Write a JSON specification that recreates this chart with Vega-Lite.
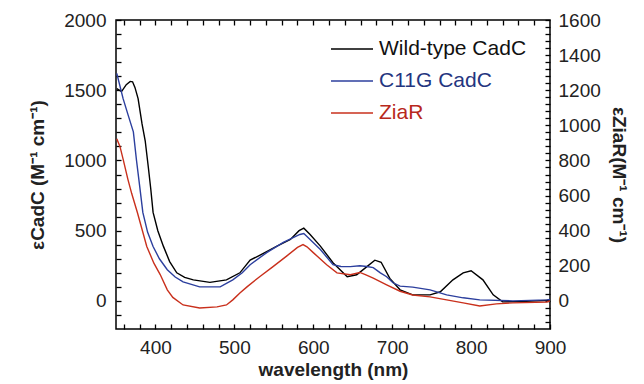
{
  "$schema": "https://vega.github.io/schema/vega-lite/v6.json",
  "width": 434,
  "height": 309,
  "autosize": {"type": "none"},
  "padding": {"left": 116, "top": 20, "right": 94, "bottom": 55},
  "config": {
    "view": {"stroke": "#000", "strokeWidth": 1.5},
    "line": {"strokeWidth": 1.4}
  },
  "layer": [
    {
      "data": {"values": [
        {"s": "Wild-type CadC", "nm": 351, "v": 1512},
        {"s": "Wild-type CadC", "nm": 357, "v": 1490},
        {"s": "Wild-type CadC", "nm": 363, "v": 1540},
        {"s": "Wild-type CadC", "nm": 368, "v": 1563},
        {"s": "Wild-type CadC", "nm": 371, "v": 1560},
        {"s": "Wild-type CadC", "nm": 374, "v": 1520},
        {"s": "Wild-type CadC", "nm": 378, "v": 1440},
        {"s": "Wild-type CadC", "nm": 383, "v": 1260},
        {"s": "Wild-type CadC", "nm": 387, "v": 1140},
        {"s": "Wild-type CadC", "nm": 391, "v": 950},
        {"s": "Wild-type CadC", "nm": 394, "v": 800},
        {"s": "Wild-type CadC", "nm": 397, "v": 630},
        {"s": "Wild-type CadC", "nm": 403, "v": 500},
        {"s": "Wild-type CadC", "nm": 410, "v": 390},
        {"s": "Wild-type CadC", "nm": 418, "v": 280},
        {"s": "Wild-type CadC", "nm": 427, "v": 200},
        {"s": "Wild-type CadC", "nm": 437, "v": 168},
        {"s": "Wild-type CadC", "nm": 448, "v": 150},
        {"s": "Wild-type CadC", "nm": 469, "v": 132},
        {"s": "Wild-type CadC", "nm": 490, "v": 150},
        {"s": "Wild-type CadC", "nm": 507, "v": 200},
        {"s": "Wild-type CadC", "nm": 520, "v": 290},
        {"s": "Wild-type CadC", "nm": 532, "v": 325},
        {"s": "Wild-type CadC", "nm": 554, "v": 390},
        {"s": "Wild-type CadC", "nm": 571, "v": 437},
        {"s": "Wild-type CadC", "nm": 582, "v": 500},
        {"s": "Wild-type CadC", "nm": 588, "v": 518},
        {"s": "Wild-type CadC", "nm": 596, "v": 473},
        {"s": "Wild-type CadC", "nm": 609, "v": 390},
        {"s": "Wild-type CadC", "nm": 625, "v": 272},
        {"s": "Wild-type CadC", "nm": 643, "v": 172},
        {"s": "Wild-type CadC", "nm": 655, "v": 186},
        {"s": "Wild-type CadC", "nm": 668, "v": 244},
        {"s": "Wild-type CadC", "nm": 678, "v": 290},
        {"s": "Wild-type CadC", "nm": 686, "v": 275},
        {"s": "Wild-type CadC", "nm": 697, "v": 160},
        {"s": "Wild-type CadC", "nm": 710, "v": 79},
        {"s": "Wild-type CadC", "nm": 726, "v": 43},
        {"s": "Wild-type CadC", "nm": 748, "v": 43},
        {"s": "Wild-type CadC", "nm": 761, "v": 65},
        {"s": "Wild-type CadC", "nm": 777, "v": 150},
        {"s": "Wild-type CadC", "nm": 790, "v": 200},
        {"s": "Wild-type CadC", "nm": 800, "v": 215},
        {"s": "Wild-type CadC", "nm": 815, "v": 150},
        {"s": "Wild-type CadC", "nm": 828, "v": 43},
        {"s": "Wild-type CadC", "nm": 840, "v": -7},
        {"s": "Wild-type CadC", "nm": 870, "v": -3},
        {"s": "Wild-type CadC", "nm": 900, "v": 5},
        {"s": "C11G CadC", "nm": 351, "v": 1620},
        {"s": "C11G CadC", "nm": 355, "v": 1530},
        {"s": "C11G CadC", "nm": 359, "v": 1440},
        {"s": "C11G CadC", "nm": 365, "v": 1330},
        {"s": "C11G CadC", "nm": 372, "v": 1204},
        {"s": "C11G CadC", "nm": 376, "v": 1000},
        {"s": "C11G CadC", "nm": 380, "v": 817},
        {"s": "C11G CadC", "nm": 384, "v": 630},
        {"s": "C11G CadC", "nm": 390, "v": 490},
        {"s": "C11G CadC", "nm": 397, "v": 387},
        {"s": "C11G CadC", "nm": 405, "v": 300},
        {"s": "C11G CadC", "nm": 415, "v": 222},
        {"s": "C11G CadC", "nm": 425, "v": 170},
        {"s": "C11G CadC", "nm": 435, "v": 136},
        {"s": "C11G CadC", "nm": 456, "v": 100},
        {"s": "C11G CadC", "nm": 482, "v": 100},
        {"s": "C11G CadC", "nm": 498, "v": 150},
        {"s": "C11G CadC", "nm": 510, "v": 200},
        {"s": "C11G CadC", "nm": 520, "v": 258},
        {"s": "C11G CadC", "nm": 541, "v": 344},
        {"s": "C11G CadC", "nm": 562, "v": 416},
        {"s": "C11G CadC", "nm": 583, "v": 473},
        {"s": "C11G CadC", "nm": 588, "v": 480},
        {"s": "C11G CadC", "nm": 592, "v": 459},
        {"s": "C11G CadC", "nm": 609, "v": 366},
        {"s": "C11G CadC", "nm": 625, "v": 258},
        {"s": "C11G CadC", "nm": 635, "v": 245},
        {"s": "C11G CadC", "nm": 647, "v": 244},
        {"s": "C11G CadC", "nm": 659, "v": 250},
        {"s": "C11G CadC", "nm": 668, "v": 245},
        {"s": "C11G CadC", "nm": 676, "v": 237},
        {"s": "C11G CadC", "nm": 685, "v": 200},
        {"s": "C11G CadC", "nm": 693, "v": 172},
        {"s": "C11G CadC", "nm": 701, "v": 129},
        {"s": "C11G CadC", "nm": 710, "v": 105},
        {"s": "C11G CadC", "nm": 726, "v": 98},
        {"s": "C11G CadC", "nm": 748, "v": 79},
        {"s": "C11G CadC", "nm": 769, "v": 43},
        {"s": "C11G CadC", "nm": 790, "v": 22},
        {"s": "C11G CadC", "nm": 811, "v": 7},
        {"s": "C11G CadC", "nm": 853, "v": 0},
        {"s": "C11G CadC", "nm": 896, "v": 7},
        {"s": "C11G CadC", "nm": 900, "v": 10}
      ]},
      "mark": {"type": "line", "clip": true},
      "encoding": {
        "x": {
          "field": "nm", "type": "quantitative",
          "scale": {"domain": [350, 900], "nice": false},
          "axis": {"orient": "bottom", "values": [360, 380, 400, 420, 440, 460, 480, 500, 520, 540, 560, 580, 600, 620, 640, 660, 680, 700, 720, 740, 760, 780, 800, 820, 840, 860, 880, 900], "labelExpr": "datum.value % 100 == 0 ? datum.label : ''", "labelOverlap": false, "format": "d", "grid": false, "domain": false, "labelFlush": false, "tickSize": -5, "tickColor": "black", "tickWidth": 1.3, "labelPadding": 14, "labelFont": "Liberation Sans", "labelFontSize": 19, "labelColor": "#222", "title": "wavelength (nm)", "titlePadding": 3, "titleFont": "Liberation Sans", "titleFontSize": 19, "titleFontWeight": "bold", "titleColor": "#222"}
        },
        "y": {
          "field": "v", "type": "quantitative",
          "scale": {"domain": [-200, 2000], "nice": false},
          "axis": {"orient": "left", "values": [-100, 0, 100, 200, 300, 400, 500, 600, 700, 800, 900, 1000, 1100, 1200, 1300, 1400, 1500, 1600, 1700, 1800, 1900, 2000], "labelExpr": "datum.value % 500 == 0 ? datum.label : ''", "labelOverlap": false, "format": "d", "grid": false, "domain": false, "labelFlush": false, "tickSize": -5, "tickColor": "black", "tickWidth": 1.3, "labelPadding": 15, "labelFont": "Liberation Sans", "labelFontSize": 19, "labelColor": "#222", "title": "εCadC (M⁻¹ cm⁻¹)", "titlePadding": 16, "titleFont": "Liberation Sans", "titleFontSize": 19, "titleFontWeight": "bold", "titleColor": "#222"}
        },
        "color": {
          "field": "s", "type": "nominal",
          "scale": {"domain": ["Wild-type CadC", "C11G CadC", "ZiaR"], "range": ["#000000", "#2c3f9e", "#c9301c"]},
          "legend": {
            "title": null,
            "orient": "none",
            "legendX": 214,
            "legendY": 7,
            "padding": 0,
            "symbolType": "stroke",
            "symbolSize": 1764,
            "symbolStrokeWidth": 1.5,
            "labelFont": "Liberation Sans",
            "labelFontSize": 21,
            "labelOffset": 5,
            "rowPadding": -12,
            "labelColor": {"expr": "datum.value == 'ZiaR' ? '#b8281c' : datum.value == 'C11G CadC' ? '#24357f' : '#111111'"}
          }
        }
      }
    },
    {
      "data": {"values": [
        {"s": "ZiaR", "nm": 351, "v": 923},
        {"s": "ZiaR", "nm": 355, "v": 880},
        {"s": "ZiaR", "nm": 359, "v": 808},
        {"s": "ZiaR", "nm": 365, "v": 694},
        {"s": "ZiaR", "nm": 370, "v": 610},
        {"s": "ZiaR", "nm": 377, "v": 505},
        {"s": "ZiaR", "nm": 389, "v": 310},
        {"s": "ZiaR", "nm": 398, "v": 215},
        {"s": "ZiaR", "nm": 406, "v": 150},
        {"s": "ZiaR", "nm": 415, "v": 63},
        {"s": "ZiaR", "nm": 422, "v": 20},
        {"s": "ZiaR", "nm": 435, "v": -23},
        {"s": "ZiaR", "nm": 456, "v": -40},
        {"s": "ZiaR", "nm": 478, "v": -34},
        {"s": "ZiaR", "nm": 490, "v": -23},
        {"s": "ZiaR", "nm": 498, "v": 6},
        {"s": "ZiaR", "nm": 507, "v": 45},
        {"s": "ZiaR", "nm": 516, "v": 80},
        {"s": "ZiaR", "nm": 532, "v": 138},
        {"s": "ZiaR", "nm": 549, "v": 195},
        {"s": "ZiaR", "nm": 567, "v": 258},
        {"s": "ZiaR", "nm": 580, "v": 305},
        {"s": "ZiaR", "nm": 587, "v": 321},
        {"s": "ZiaR", "nm": 592, "v": 308},
        {"s": "ZiaR", "nm": 600, "v": 275},
        {"s": "ZiaR", "nm": 617, "v": 206},
        {"s": "ZiaR", "nm": 630, "v": 160},
        {"s": "ZiaR", "nm": 647, "v": 149},
        {"s": "ZiaR", "nm": 659, "v": 162},
        {"s": "ZiaR", "nm": 666, "v": 150},
        {"s": "ZiaR", "nm": 676, "v": 130},
        {"s": "ZiaR", "nm": 693, "v": 92},
        {"s": "ZiaR", "nm": 710, "v": 55},
        {"s": "ZiaR", "nm": 726, "v": 34},
        {"s": "ZiaR", "nm": 748, "v": 23},
        {"s": "ZiaR", "nm": 769, "v": 6},
        {"s": "ZiaR", "nm": 790, "v": -11},
        {"s": "ZiaR", "nm": 811, "v": -29},
        {"s": "ZiaR", "nm": 832, "v": -17},
        {"s": "ZiaR", "nm": 853, "v": -11},
        {"s": "ZiaR", "nm": 896, "v": -6},
        {"s": "ZiaR", "nm": 900, "v": 0}
      ]},
      "mark": {"type": "line", "clip": true},
      "encoding": {
        "x": {
          "field": "nm", "type": "quantitative",
          "scale": {"domain": [350, 900], "nice": false},
          "axis": {"orient": "top", "values": [360, 380, 400, 420, 440, 460, 480, 500, 520, 540, 560, 580, 600, 620, 640, 660, 680, 700, 720, 740, 760, 780, 800, 820, 840, 860, 880], "grid": false, "domain": false, "tickSize": -5, "tickColor": "black", "tickWidth": 1.3, "labels": false, "title": null}
        },
        "y": {
          "field": "v", "type": "quantitative",
          "scale": {"domain": [-160, 1600], "nice": false},
          "axis": {"orient": "right", "values": [-120, -80, -40, 0, 40, 80, 120, 160, 200, 240, 280, 320, 360, 400, 440, 480, 520, 560, 600, 640, 680, 720, 760, 800, 840, 880, 920, 960, 1000, 1040, 1080, 1120, 1160, 1200, 1240, 1280, 1320, 1360, 1400, 1440, 1480, 1520, 1560, 1600], "labelExpr": "datum.value % 200 == 0 ? datum.label : ''", "labelOverlap": false, "format": "d", "grid": false, "domain": false, "labelFlush": false, "tickSize": -5, "tickColor": "black", "tickWidth": 1.3, "labelPadding": 13, "labelFont": "Liberation Sans", "labelFontSize": 19, "labelColor": "#222", "title": "εZiaR(M⁻¹ cm⁻¹)", "titlePadding": 8, "titleFont": "Liberation Sans", "titleFontSize": 19, "titleFontWeight": "bold", "titleColor": "#222"}
        },
        "color": {"field": "s", "type": "nominal"}
      }
    }
  ],
  "resolve": {
    "scale": {"y": "independent"},
    "axis": {"x": "independent", "y": "independent"}
  }
}
